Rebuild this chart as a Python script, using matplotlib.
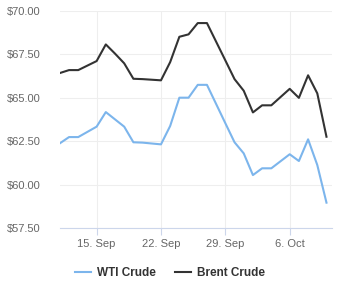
import pandas as pd
import matplotlib.pyplot as plt
import matplotlib.dates as mdates
from matplotlib.ticker import FuncFormatter

# Fechas (datos diarios, sábado repite viernes, sin domingos)
fechas = pd.to_datetime([
    "2025-09-11", "2025-09-12", "2025-09-13", "2025-09-15", "2025-09-16",
    "2025-09-17", "2025-09-18", "2025-09-19", "2025-09-20", "2025-09-22",
    "2025-09-23", "2025-09-24", "2025-09-25", "2025-09-26", "2025-09-27",
    "2025-09-29", "2025-09-30", "2025-10-01", "2025-10-02", "2025-10-03",
    "2025-10-04", "2025-10-06", "2025-10-07", "2025-10-08", "2025-10-09",
    "2025-10-10",
])
wti = [62.38, 62.74, 62.74, 63.34, 64.18,
       63.76, 63.34, 62.44, 62.42, 62.32,
       63.38, 65.01, 65.01, 65.75, 65.75,
       63.54, 62.44, 61.80, 60.55, 60.94,
       60.94, 61.75, 61.36, 62.61, 61.13,
       58.96]
brent = [66.43, 66.60, 66.60, 67.12, 68.08,
         67.55, 66.99, 66.10, 66.08, 66.01,
         67.06, 68.52, 68.66, 69.31, 69.31,
         67.16, 66.08, 65.41, 64.16, 64.57,
         64.57, 65.52, 65.00, 66.30, 65.26,
         62.76]
ticks_y = [57.5, 60.0, 62.5, 65.0, 67.5, 70.0]
ticks_x = pd.to_datetime(["2025-09-15", "2025-09-22", "2025-09-29", "2025-10-06"])

plt.rcParams["font.family"] = ["Liberation Sans", "DejaVu Sans"]

fig = plt.figure(figsize=(3.4, 3.0), dpi=100)
ax = fig.add_axes([0.176, 0.24, 0.8, 0.723])

ax.plot(fechas, wti, color="#7cb5ec", lw=1.5, label="WTI Crude")
ax.plot(fechas, brent, color="#333333", lw=1.5, label="Brent Crude")

ax.set_ylim(57.5, 70)
ax.set_xlim(pd.Timestamp("2025-09-11"), pd.Timestamp("2025-10-10 14:00"))
ax.set_yticks(ticks_y)
ax.yaxis.set_major_formatter(FuncFormatter(lambda v, p: f"${v:.2f}"))
ax.set_xticks(ticks_x)
ax.xaxis.set_major_formatter(mdates.DateFormatter("%-d. %b"))

ax.grid(True, color="#eeeeee", lw=0.8)  # cuadrícula suave
ax.set_axisbelow(True)
for s in ["top", "right", "left"]:
    ax.spines[s].set_visible(False)
ax.spines["bottom"].set_color("#ccd6eb")
ax.tick_params(axis="y", length=0, labelsize=8, labelcolor="#666666", pad=14)
ax.tick_params(axis="x", length=5, color="#ccd6eb", labelsize=8,
               labelcolor="#666666", pad=3)

leg = fig.legend(loc="center", bbox_to_anchor=(0.5, 0.09), ncol=2, frameon=False,
                 handlelength=1.4, handletextpad=0.5, columnspacing=1.6,
                 prop={"weight": "bold", "size": 8.5})
for t in leg.get_texts():
    t.set_color("#333333")

fig.savefig("out.png", dpi=100)
